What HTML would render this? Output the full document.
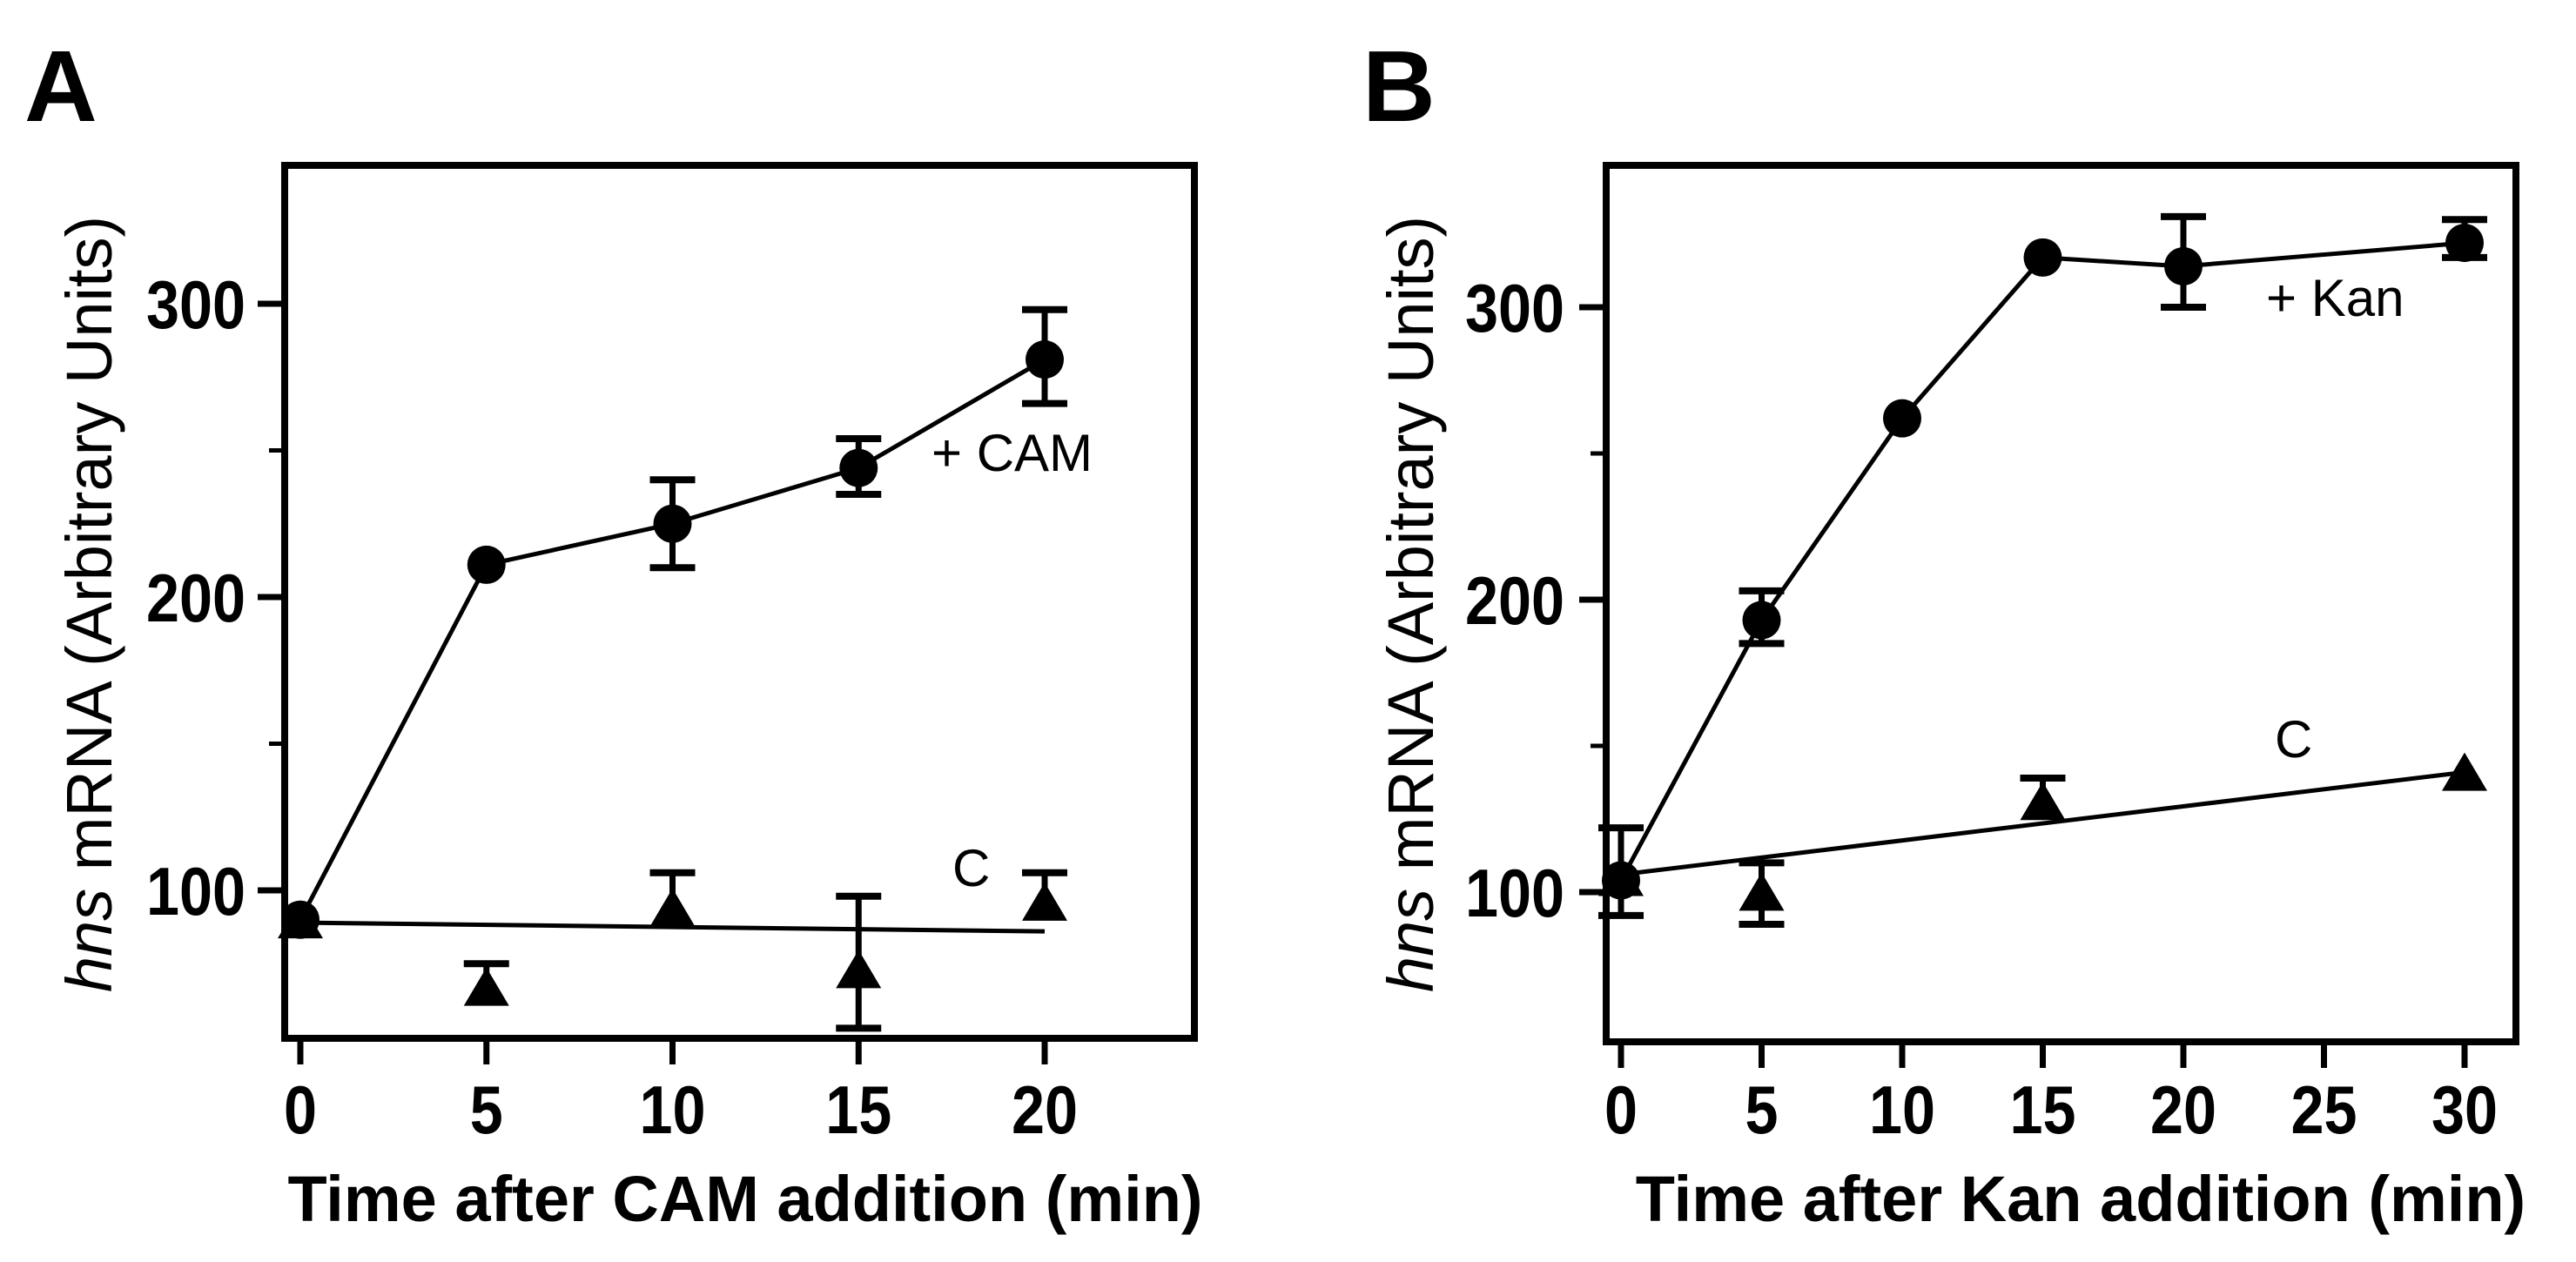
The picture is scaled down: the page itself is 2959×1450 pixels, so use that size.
<!DOCTYPE html>
<html><head><meta charset="utf-8"><style>
html,body{margin:0;padding:0;background:#fff}
svg{display:block;font-family:"Liberation Sans",Arial,sans-serif}
</style></head><body>
<svg id="fig" width="2959" height="1450" viewBox="0 0 2959 1450" xmlns="http://www.w3.org/2000/svg"></svg>
<script>
// Panel A data
const aTimes=[0,5,10,15,20];
const aCam=[90,211,225,244,281];
const aCamLo=[90,211,210,235,266];
const aCamHi=[90,211,240,254,298];
const aCtrl=[89,66,93,72,95];
const aCtrlLo=[89,66,93,53,95];
const aCtrlHi=[89,75,106,98,106];
const aCtrlFit=[89,86];
const aXTicks=[0,5,10,15,20];
const aYTicks=[100,200,300];
const aYMinor=[150,250];
// Panel B data
const bTimes=[0,5,10,15,20,30];
const bKan=[104,193,262,317,314,322];
const bKanLo=[92,185,262,317,300,317];
const bKanHi=[122,203,262,317,331,330];
const bCtrlTimes=[0,5,15,30];
const bCtrl=[104,99,130,140];
const bCtrlLo=[104,89,130,140];
const bCtrlHi=[104,110,139,140];
const bCtrlFit=[106,141];
const bXTicks=[0,5,10,15,20,25,30];
const bYTicks=[100,200,300];
const bYMinor=[150,250];

const NS="http://www.w3.org/2000/svg";
const svg=document.getElementById('fig');
function mk(tag,attrs,parent,text){const e=document.createElementNS(NS,tag);for(const k in attrs)e.setAttribute(k,attrs[k]);if(text!==undefined)e.textContent=text;(parent||svg).appendChild(e);return e;}

function panel(o){
  const g=mk('g',{});
  
  
  const X=t=>o.x0+t*o.xs, Y=v=>o.y100-(v-100)*o.ys;
  const L=mk('text',{x:o.letterX,y:139,'font-size':116,'font-weight':'bold'},g,o.letter);
  
  const box=mk('rect',{x:o.left,y:190,width:o.right-o.left,height:o.bottom-190,fill:'none',stroke:'#000','stroke-width':8},g);
  
  o.yTicks.forEach(v=>{
    mk('line',{x1:o.left-31,x2:o.left,y1:Y(v),y2:Y(v),stroke:'#000','stroke-width':7},g);
    const s=String(v);
    const t=mk('text',{x:o.labR,y:Y(v)+28,'font-size':78,'font-weight':'bold','text-anchor':'end',textLength:s.length*38,lengthAdjust:'spacingAndGlyphs'},g,s);
    
  });
  o.yMinor.forEach(v=>mk('line',{x1:o.left-18,x2:o.left,y1:Y(v),y2:Y(v),stroke:'#000','stroke-width':5},g));
  o.xTicks.forEach(v=>{
    mk('line',{x1:X(v),x2:X(v),y1:o.bottom,y2:o.bottom+30,stroke:'#000','stroke-width':7},g);
    const s=String(v);
    const t=mk('text',{x:X(v),y:1302,'font-size':78,'font-weight':'bold','text-anchor':'middle',textLength:s.length*38,lengthAdjust:'spacingAndGlyphs'},g,s);
    
  });
  const xt=mk('text',{x:o.xtC,y:1403,'font-size':74,'font-weight':'bold','text-anchor':'middle'},g,o.xTitle);
  
  const yt=mk('text',{transform:`translate(${o.ytX},694) rotate(-90)`,'font-size':74,'text-anchor':'middle'},g);
  
  mk('tspan',{'font-style':'italic'},yt,'hns');
  mk('tspan',{},yt,' mRNA (Arbitrary Units)');
  const fl=mk('line',{x1:X(o.ctT[0]),y1:Y(o.ctFit[0]),x2:X(o.ctT[o.ctT.length-1]),y2:Y(o.ctFit[1]),stroke:'#000','stroke-width':5},g);
  
  const pl=mk('polyline',{points:o.tT.map((t,i)=>X(t)+','+Y(o.tV[i])).join(' '),fill:'none',stroke:'#000','stroke-width':5},g);
  
  function err(x,lo,hi,v){
    if(hi>v+0.5){mk('line',{x1:x,x2:x,y1:Y(v),y2:Y(hi),stroke:'#000','stroke-width':7},g);mk('line',{x1:x-26,x2:x+26,y1:Y(hi),y2:Y(hi),stroke:'#000','stroke-width':8},g);}
    if(lo<v-0.5){mk('line',{x1:x,x2:x,y1:Y(v),y2:Y(lo),stroke:'#000','stroke-width':7},g);mk('line',{x1:x-26,x2:x+26,y1:Y(lo),y2:Y(lo),stroke:'#000','stroke-width':8},g);}
  }
  o.ctT.forEach((t,i)=>{
    err(X(t),o.cLo[i],o.cHi[i],o.cV[i]);
    const x=X(t),y=Y(o.cV[i]);
    const p=mk('polygon',{points:`${x},${y-26} ${x-26},${y+18} ${x+26},${y+18}`,fill:'#000'},g);
    
  });
  o.tT.forEach((t,i)=>{
    err(X(t),o.tLo[i],o.tHi[i],o.tV[i]);
    const c=mk('circle',{cx:X(t),cy:Y(o.tV[i]),r:22,fill:'#000'},g);
    
  });
  const l1=mk('text',{x:o.tLab[0],y:o.tLab[1],'font-size':60},g,o.tName);
  
  const l2=mk('text',{x:o.cLab[0],y:o.cLab[1],'font-size':60},g,'C');
  
}
panel({name:'panel-a',letter:'A',letterX:28,left:327,right:1372,bottom:1193,x0:345,xs:42.75,y100:1023,ys:3.37,labR:282,
  yTicks:aYTicks,yMinor:aYMinor,xTicks:aXTicks,xTitle:'Time after CAM addition (min)',xtC:856,ytX:128,
  tT:aTimes,tV:aCam,tLo:aCamLo,tHi:aCamHi,ctT:aTimes,cV:aCtrl,cLo:aCtrlLo,cHi:aCtrlHi,ctFit:aCtrlFit,
  tName:'+ CAM',tLab:[1070,541],cLab:[1094,1018]});
panel({name:'panel-b',letter:'B',letterX:1565,left:1845,right:2890,bottom:1197,x0:1862,xs:32.3,y100:1025,ys:3.36,labR:1797,
  yTicks:bYTicks,yMinor:bYMinor,xTicks:bXTicks,xTitle:'Time after Kan addition (min)',xtC:2390,ytX:1646,
  tT:bTimes,tV:bKan,tLo:bKanLo,tHi:bKanHi,ctT:bCtrlTimes,cV:bCtrl,cLo:bCtrlLo,cHi:bCtrlHi,ctFit:bCtrlFit,
  tName:'+ Kan',tLab:[2603,363],cLab:[2613,870]});
</script>
</body></html>
